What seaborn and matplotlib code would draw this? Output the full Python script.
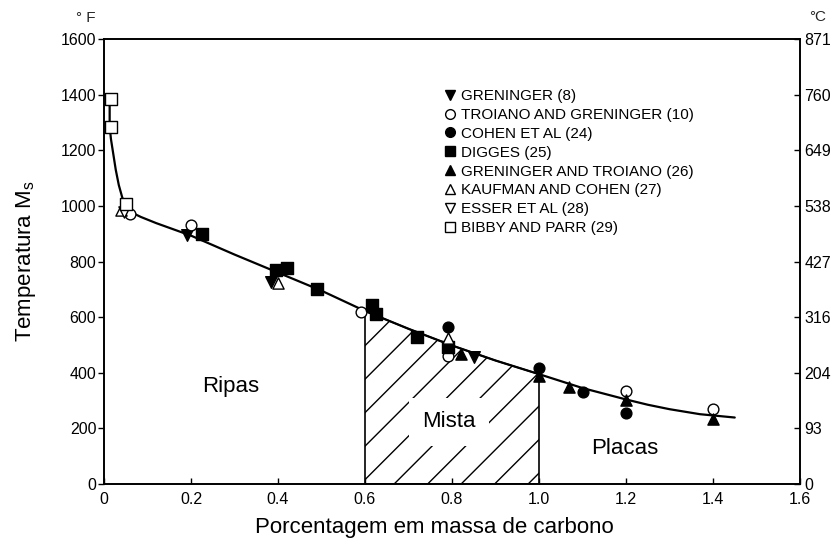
import numpy as np
import matplotlib
matplotlib.use("Agg")
import matplotlib.pyplot as plt
from matplotlib.lines import Line2D
from matplotlib.collections import LineCollection
import seaborn as sns

# ---- data -----------------------------------------------------------------
# smooth Ms curve (wt% C, degF)
curve_x = [0.013, 0.013, 0.016, 0.021, 0.027, 0.034, 0.042, 0.052, 0.065, 0.085,
           0.12, 0.2, 0.3, 0.4, 0.5, 0.6, 0.7, 0.8, 0.9, 1.0, 1.1, 1.2, 1.25,
           1.3, 1.37, 1.45]
curve_y = [1383, 1285, 1240, 1190, 1130, 1075, 1030, 995, 975, 960,
           938, 893, 825, 760, 695, 622, 558, 498, 444, 395, 345, 304, 285,
           269, 251, 239]

greninger_x = [0.19, 0.385, 0.85]
greninger_y = [895, 727, 455]
troiano_x = [0.06, 0.2, 0.59, 0.79, 1.2, 1.4]
troiano_y = [970, 930, 618, 462, 333, 268]
cohen_x = [0.79, 1.0, 1.1, 1.2]
cohen_y = [566, 416, 330, 255]
digges_x = [0.225, 0.395, 0.42, 0.49, 0.615, 0.625, 0.72, 0.79]
digges_y = [900, 770, 776, 700, 642, 610, 530, 494]
gren_troiano_x = [0.82, 1.0, 1.07, 1.2, 1.4]
gren_troiano_y = [467, 388, 348, 302, 232]
kaufman_x = [0.04, 0.4, 0.79]
kaufman_y = [985, 724, 524]
esser_x = [0.045]
esser_y = [978]
bibby_x = [0.015, 0.015, 0.05]
bibby_y = [1383, 1285, 1007]

series_labels = ["GRENINGER (8)", "TROIANO AND GRENINGER (10)", "COHEN ET AL (24)",
                 "DIGGES (25)", "GRENINGER AND TROIANO (26)", "KAUFMAN AND COHEN (27)",
                 "ESSER ET AL (28)", "BIBBY AND PARR (29)"]

x_ticks = [0, 0.2, 0.4, 0.6, 0.8, 1.0, 1.2, 1.4, 1.6]
x_tick_labels = ["0", "0.2", "0.4", "0.6", "0.8", "1.0", "1.2", "1.4", "1.6"]
f_ticks = [0, 200, 400, 600, 800, 1000, 1200, 1400, 1600]
c_tick_labels = ["0", "93", "204", "316", "427", "538", "649", "760", "871"]

mixed_start, mixed_end = 0.6, 1.0

# ---- figure ---------------------------------------------------------------
sns.set_theme(style="white")
plt.rcParams["font.family"] = ["Liberation Sans", "DejaVu Sans"]
plt.rcParams["mathtext.fontset"] = "custom"
plt.rcParams["mathtext.rm"] = "Liberation Sans"

fig = plt.figure(figsize=(8.35, 5.41), dpi=100)
ax = fig.add_axes([104 / 835, 1 - 484 / 541, 696 / 835, 445 / 541])
ax.set_xlim(0, 1.6)
ax.set_ylim(0, 1600)

for sp in ax.spines.values():
    sp.set_color("black")
    sp.set_linewidth(1.2)

# Ms curve
sns.lineplot(x=curve_x, y=curve_y, sort=False, estimator=None, color="black",
             linewidth=1.6, ax=ax, zorder=3)

# hatched region (mixed martensite)
cx = np.array(curve_x)
cy = np.array(curve_y)
mask = (cx >= mixed_start) & (cx <= mixed_end)
region = ax.fill_between(cx[mask], cy[mask], 0, facecolor="none",
                         edgecolor="black", linewidth=1.2, zorder=2)

fig.canvas.draw()
bb = ax.get_window_extent()
px_per_x = bb.width / 1.6
px_per_y = bb.height / 1600
slope = px_per_x / px_per_y           # 45 deg on screen
step = 33.5 / px_per_x
top = 800
starts = np.arange(0.667 - 12 * step, mixed_end + step, step)
segs = [[(c, 0), (c + top / slope, top)] for c in starts]
hatch = LineCollection(segs, colors="black", linewidths=1.0, zorder=2)
ax.add_collection(hatch)
path = region.get_paths()[0]
hatch.set_clip_path(path, ax.transData)

# data markers
specs = [
    (greninger_x, greninger_y, "v", "black", 70),
    (troiano_x, troiano_y, "o", "white", 60),
    (cohen_x, cohen_y, "o", "black", 60),
    (digges_x, digges_y, "s", "black", 70),
    (gren_troiano_x, gren_troiano_y, "^", "black", 65),
    (kaufman_x, kaufman_y, "^", "white", 65),
    (esser_x, esser_y, "v", "white", 65),
    (bibby_x, bibby_y, "s", "white", 75),
]
handles = []
for (xs, ys, m, fc, s), lab in zip(specs, series_labels):
    sns.scatterplot(x=xs, y=ys, marker=m, s=s, color=fc, edgecolor="black",
                    linewidth=1.0, zorder=5, legend=False, ax=ax)
    handles.append(Line2D([], [], linestyle="none", marker=m, markersize=7,
                          markerfacecolor=fc, markeredgecolor="black",
                          markeredgewidth=1.0, label=lab))

leg = ax.legend(handles=handles, loc="upper left", frameon=False,
                bbox_to_anchor=(444 / 835, 1 - 89 / 541),
                bbox_transform=fig.transFigure, fontsize=11,
                handlelength=0.8, handletextpad=0.3, labelspacing=0.32,
                borderpad=0, borderaxespad=0)
for t in leg.get_texts():
    t.set_color("black")

# region labels
ax.text(0.291, 349, "Ripas", fontsize=16, ha="center", va="center", color="black")
ax.text(0.793, 223, "Mista", fontsize=16, ha="center", va="center", color="black",
        zorder=6, bbox=dict(boxstyle="square,pad=0.6", facecolor="white",
                            edgecolor="none"))
ax.text(1.198, 126, "Placas", fontsize=16, ha="center", va="center", color="black")

# axes, ticks
ax.set_xticks(x_ticks)
ax.set_xticklabels(x_tick_labels)
ax.set_yticks(f_ticks)
ax.set_yticklabels([str(v) for v in f_ticks])
ax.tick_params(axis="x", direction="in", length=4, width=1.0, pad=6,
               labelsize=11.5, colors="black", bottom=True)
ax.tick_params(axis="y", direction="out", length=4, width=1.0, pad=1.5,
               labelsize=11.5, colors="black", left=True)

ax2 = ax.twinx()
ax2.set_ylim(0, 1600)
ax2.set_yticks(f_ticks)
ax2.set_yticklabels(c_tick_labels)
ax2.tick_params(axis="y", direction="in", length=4, width=1.0, pad=3,
                labelsize=11.5, colors="black", right=True)
for sp in ax2.spines.values():
    sp.set_color("black")
    sp.set_linewidth(1.2)

ax.set_xlabel("Porcentagem em massa de carbono", fontsize=16, color="black")
ax.xaxis.set_label_coords(0.474, -0.075)
ax.set_ylabel(r"Temperatura M$_\mathregular{s}$", fontsize=16, color="black",
              va="center")
ax.yaxis.set_label_coords(-0.112, 0.5)

fig.text(86 / 835, 1 - 18 / 541, "° F", fontsize=11, ha="center", va="center")
fig.text(818 / 835, 1 - 17 / 541, "°C", fontsize=11, ha="center", va="center")

fig.savefig("out.png", dpi=100, facecolor="white")
